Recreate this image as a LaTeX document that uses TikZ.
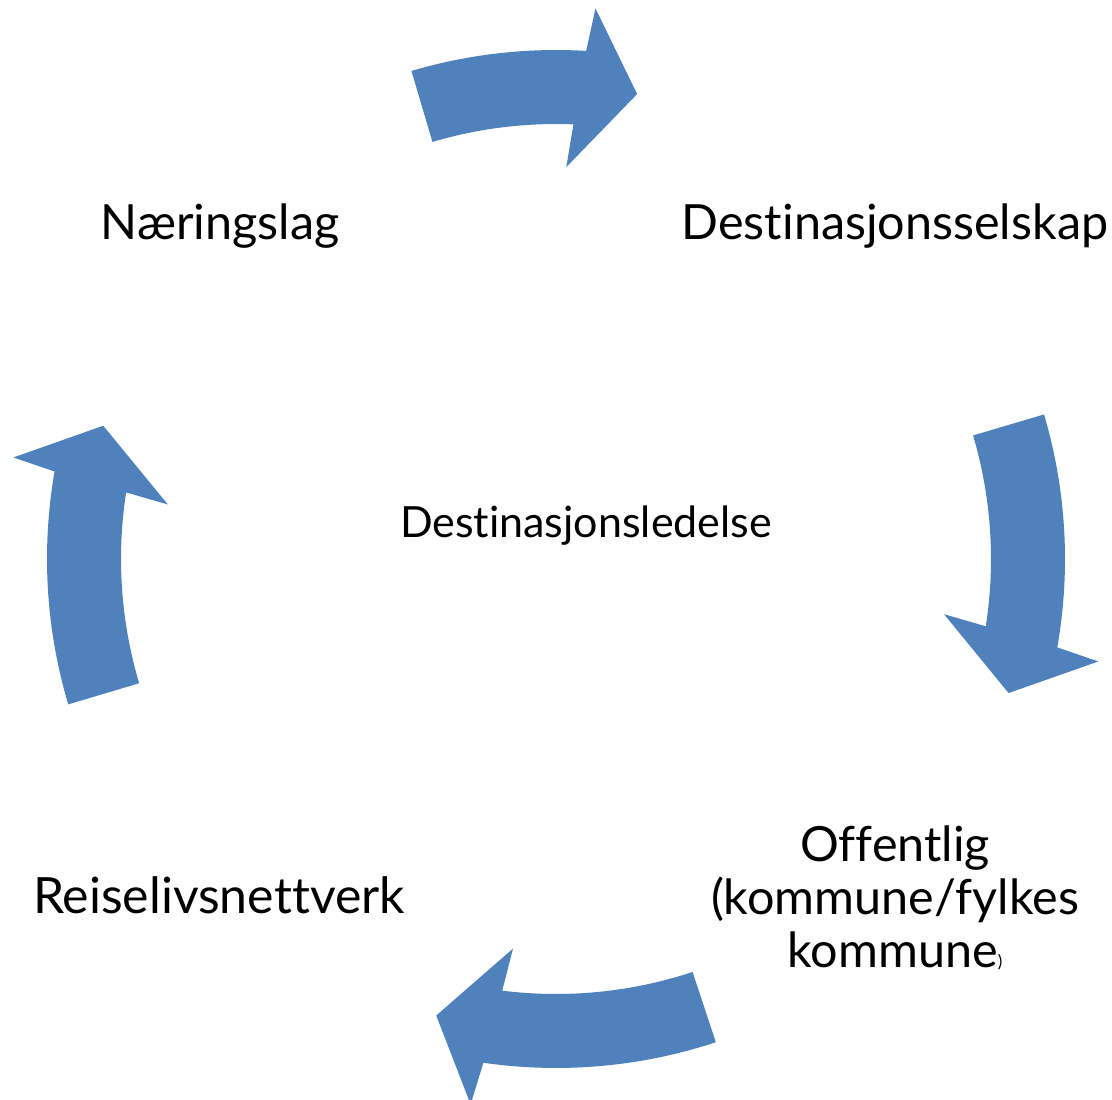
\documentclass[tikz,border=0pt]{standalone}
\usepackage{fontspec}
\setmainfont{Lato}[Ligatures=NoCommon]
\definecolor{cycleblue}{RGB}{79,129,189}
\tikzset{
  cyclearrow/.style={fill=cycleblue, draw=none},
  steplabel/.style={font=\fontsize{48.5}{53}\selectfont, align=center, inner sep=0pt, anchor=base},
  hublabel/.style={font=\fontsize{43}{46}\selectfont, inner sep=0pt, anchor=base}
}
% curved block arrow round the hub: #1 = tail angle, #2 = tip angle
\newcommand\curvedblock[2]{%
  \pgfmathsetmacro\cbOutBase{#2+6.5}%
  \pgfmathsetmacro\cbOutWing{#2+5.8}%
  \pgfmathsetmacro\cbInWing{#2+8.4}%
  \pgfmathsetmacro\cbInBase{#2+7.6}%
  \fill[cyclearrow] (#1:509) arc[start angle=#1, end angle=\cbOutBase, radius=509]
    -- (\cbOutWing:552) -- (#2:472) -- (\cbInWing:392) -- (\cbInBase:435)
    arc[start angle=\cbInBase, end angle=#1, radius=435] -- cycle;
}
\begin{document}
\begin{tikzpicture}[x=1pt, y=1pt]
\useasboundingbox (0,0) rectangle (1112,1100);
\begin{scope}[shift={(556,541)}]
  \curvedblock{106.5}{80.1}
  \curvedblock{16.5}{-16.5}
  \curvedblock{-71.7}{-104.7}
  \curvedblock{196.6}{163.6}
\end{scope}
\node[steplabel] (naering) at (220,860) {Næringslag};
\node[steplabel] (selskap) at (895,860) {Destinasjonsselskap};
\node[steplabel] (offentlig) at (895,132) {Offentlig\\(kommune/fylkes\\kommune{\fontsize{17}{17}\selectfont)}};
\node[steplabel, font=\fontsize{50}{53}\selectfont] (nettverk) at (219,186) {Reiselivsnettverk};
\node[hublabel] (ledelse) at (586,562) {Destinasjonsledelse};
\end{tikzpicture}
\end{document}
